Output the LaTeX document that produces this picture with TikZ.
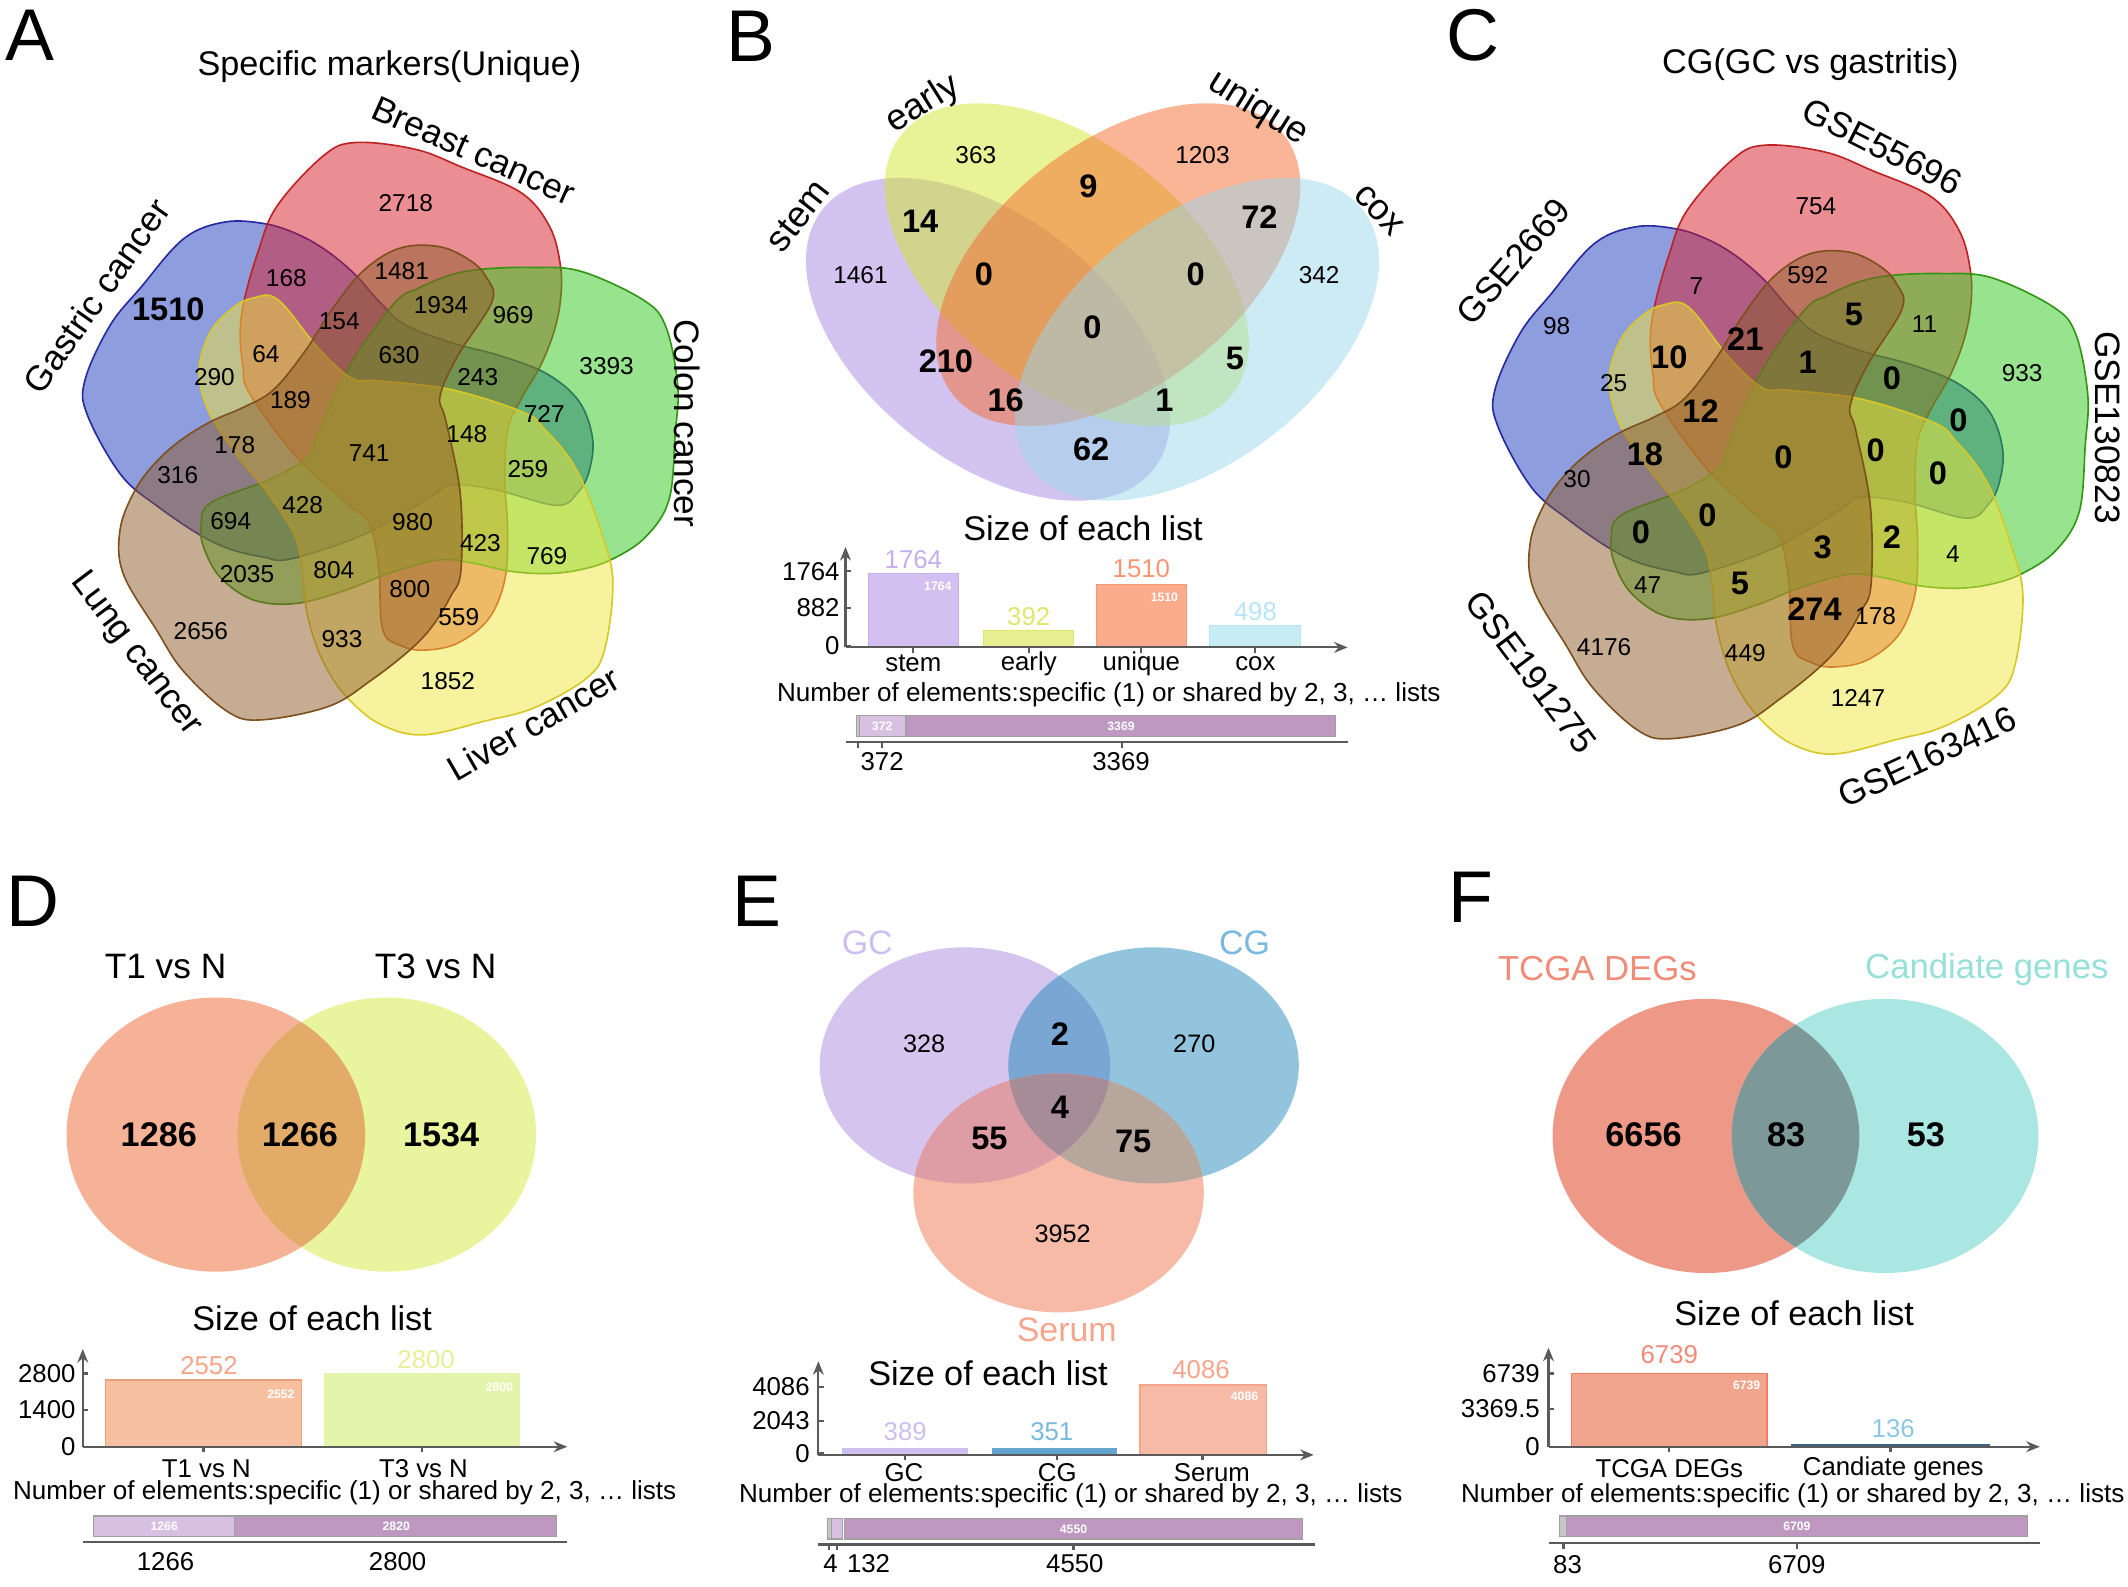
\documentclass[tikz,border=0pt]{standalone}
\usepackage{fontspec}
\setmainfont{Liberation Sans}
\usetikzlibrary{arrows.meta}

\newcommand{\fsz}[1]{\fontsize{#1}{#1}\selectfont}

% five-set blobs (A and C)
\definecolor{gasF}{RGB}{30,60,190}
\definecolor{gasD}{RGB}{40,40,160}
\definecolor{brF}{RGB}{215,30,40}
\definecolor{brD}{RGB}{190,35,35}
\definecolor{coF}{RGB}{50,200,30}
\definecolor{coD}{RGB}{50,150,20}
\definecolor{liF}{RGB}{240,230,60}
\definecolor{liD}{RGB}{215,200,40}
\definecolor{luF}{RGB}{140,90,40}
\definecolor{luD}{RGB}{125,80,30}
% four-set ellipses (B)
\definecolor{stemF}{RGB}{165,135,225}
\definecolor{earlyF}{RGB}{210,230,45}
\definecolor{uniqF}{RGB}{245,105,45}
\definecolor{coxF}{RGB}{155,215,235}
\definecolor{stemB}{RGB}{212,192,240}
\definecolor{earlyB}{RGB}{230,240,145}
\definecolor{uniqB}{RGB}{250,172,140}
\definecolor{coxB}{RGB}{200,236,246}
\definecolor{stemT}{RGB}{195,175,235}
\definecolor{earlyT}{RGB}{218,232,110}
\definecolor{uniqT}{RGB}{248,150,115}
\definecolor{coxT}{RGB}{185,228,245}
% bottom bars and axes
\definecolor{upL}{RGB}{215,192,225}
\definecolor{upP}{RGB}{190,152,192}
\definecolor{upG}{RGB}{160,160,160}
\definecolor{axG}{RGB}{90,90,90}
% D
\definecolor{t1F}{RGB}{246,178,150}
\definecolor{t3F}{RGB}{232,244,158}
\definecolor{t13F}{RGB}{226,172,104}
\definecolor{t1B}{RGB}{247,192,160}
\definecolor{t1D}{RGB}{240,160,120}
\definecolor{t3B}{RGB}{228,244,170}
\definecolor{t1T}{RGB}{246,165,135}
\definecolor{t3T}{RGB}{228,240,150}
% E
\definecolor{gcF}{RGB}{212,196,238}
\definecolor{cgF}{RGB}{146,196,222}
\definecolor{seF}{RGB}{246,186,166}
\definecolor{gccgF}{RGB}{122,166,212}
\definecolor{gcseF}{RGB}{222,157,165}
\definecolor{cgseF}{RGB}{183,166,156}
\definecolor{allF}{RGB}{165,140,150}
\definecolor{gcT}{RGB}{205,190,240}
\definecolor{cgT}{RGB}{120,185,222}
\definecolor{seT}{RGB}{245,165,140}
\definecolor{cgB}{RGB}{100,165,205}
% F
\definecolor{tcF}{RGB}{238,152,136}
\definecolor{caF}{RGB}{170,230,226}
\definecolor{tccaF}{RGB}{125,152,152}
\definecolor{tcT}{RGB}{240,140,120}
\definecolor{caT}{RGB}{150,225,215}
\definecolor{tcB}{RGB}{241,165,142}
\definecolor{tcD}{RGB}{238,125,100}
\definecolor{caB}{RGB}{60,100,130}
\definecolor{caN}{RGB}{140,200,230}

\newcommand{\fivevenn}{%
  \foreach \ang/\fc/\dc in {72/gasF/gasD, 0/brF/brD, -72/coF/coD, -144/liF/liD, 144/luF/luD}{%
    \filldraw[fill=\fc, draw=\dc, fill opacity=0.5, line width=0.6pt,
      rotate around={\ang:(283,330)}]
      plot[smooth cycle, tension=0.6] coordinates {(238,115) (262,105) (306,110) (340,123)
        (384,142) (405,167) (413,196) (413,221) (408,245) (398,270) (384,294) (374,317)
        (372,354) (374,390) (372,427) (360,456) (337,474) (313,479) (296,476) (282,464)
        (279,417) (272,385) (258,373) (218,336) (184,290) (179,270) (177,245) (180,221)
        (190,186) (204,152)};
  }%
}

\begin{document}
\begin{tikzpicture}[x=0.5pt,y=-0.5pt,
  panelletter/.style={font=\fsz{27}, inner sep=0pt},
  titletxt/.style={font=\fsz{12.6}, inner sep=0pt},
  setlab/.style={font=\fsz{13}, inner sep=0pt},
  numtxt/.style={font=\fsz{9}, inner sep=0pt},
  numbold/.style={font=\fsz{12}\bfseries, inner sep=0pt},
  ticklab/.style={font=\fsz{9.5}, inner sep=0pt},
  notetxt/.style={font=\fsz{9.6}, inner sep=0pt},
  tinylab/.style={font=\fsz{4.5}\bfseries, text=white, inner sep=0pt},
  axisline/.style={draw=axG, line width=0.8pt},
  axisarrow/.style={axisline, -{Stealth[length=5pt,width=4pt]}},
]
\useasboundingbox (0,0) rectangle (1568,1169);

% ---------------- A ----------------
\node[panelletter] (pA) at (22,26) {A};
\node[titletxt] (tA) at (287,49) {Specific markers(Unique)};
\fivevenn
\node[setlab, rotate=-24] (lbr) at (349,111) {Breast cancer};
\node[setlab, rotate=55] (lga) at (71,218) {Gastric cancer};
\node[setlab, rotate=-90] (lco) at (506,312) {Colon cancer};
\node[setlab, rotate=-53] (llu) at (100,482) {Lung cancer};
\node[setlab, rotate=30] (lli) at (393,533) {Liver cancer};
\foreach \v/\x/\y [count=\i] in {2718/299/150, 168/211/205, 1481/296/200, 1934/325/225,
    969/378/232, 154/250/237, 64/196/261, 630/294/262, 3393/447/270, 290/158/278,
    243/352/278, 189/214/295, 727/401/305, 178/173/328, 741/272/334, 148/344/320,
    316/131/350, 259/389/346, 694/170/384, 428/223/372, 980/304/385, 423/354/400,
    769/403/410, 2035/182/423, 804/246/420, 800/302/434, 559/338/455, 2656/148/465,
    933/252/471, 1852/330/502}
  \node[numtxt] (na\i) at (\x,\y) {\v};
\node[numbold] (na0) at (124,228) {1510};

% ---------------- B ----------------
\node[panelletter] (pB) at (553,27) {B};
\fill[stemF, fill opacity=0.5, rotate around={-38:(728,250)}] (728,250) ellipse [x radius=155, y radius=90];
\fill[earlyF, fill opacity=0.5, rotate around={-38:(786,195)}] (786,195) ellipse [x radius=155, y radius=90];
\fill[uniqF, fill opacity=0.5, rotate around={38:(824,195)}] (824,195) ellipse [x radius=155, y radius=90];
\fill[coxF, fill opacity=0.5, rotate around={38:(882,250)}] (882,250) ellipse [x radius=155, y radius=90];
\node[setlab, font=\fsz{13.5}, rotate=52] (lstem) at (588,159) {stem};
\node[setlab, font=\fsz{13.5}, rotate=32] (learly) at (680,77) {early};
\node[setlab, font=\fsz{13.5}, rotate=-32] (luniq) at (927,80) {unique};
\node[setlab, font=\fsz{13.5}, rotate=-46] (lcox) at (1016,155) {cox};
\foreach \v/\x/\y [count=\i] in {363/719/114, 1203/886/114, 1461/634/203, 342/972/203}
  \node[numtxt] (nb\i) at (\x,\y) {\v};
\foreach \v/\x/\y [count=\i] in {9/802/137, 14/678/163, 72/928/160, 0/725/202, 0/881/202,
    0/805/241, 210/697/266, 5/910/264, 16/741/295, 1/858/295, 62/804/331}
  \node[numbold] (bb\i) at (\x,\y) {\v};

% B bar chart
\node[titletxt] (sB) at (798,389) {Size of each list};
\draw[axisarrow] (623,477) -- (623,403);
\foreach \t/\y in {1764/421, 882/448, 0/476}{
  \draw[axisline] (623,\y) -- (627,\y);
  \node[ticklab, anchor=east] (yb\t) at (619,\y) {\t};
}
\filldraw[fill=stemB, draw=stemT] (640,422.7) rectangle (706,477);
\filldraw[fill=earlyB, draw=earlyT] (725,464.7) rectangle (791,477);
\filldraw[fill=uniqB, draw=uniqT] (808,430.5) rectangle (874,477);
\filldraw[fill=coxB, draw=coxT] (891,461) rectangle (958,477);
\draw[axisarrow] (623,477) -- (993,477);
\foreach \x in {673,758,841,925} \draw[axisline] (\x,477) -- (\x,481);
\node[ticklab, text=stemT] (hb1) at (673,412) {1764};
\node[ticklab, text=earlyT] (hb2) at (758,454) {392};
\node[ticklab, text=uniqT] (hb3) at (841,419) {1510};
\node[ticklab, text=coxT] (hb4) at (925,451) {498};
\node[tinylab] (wb1) at (691,432) {1764};
\node[tinylab] (wb2) at (858,440) {1510};
\node[ticklab] (xb1) at (673,489) {stem};
\node[ticklab] (xb2) at (758,489) {early};
\node[ticklab] (xb3) at (841,489) {unique};
\node[ticklab] (xb4) at (925,489) {cox};
\node[notetxt] (nbB) at (817,512) {Number of elements:specific (1) or shared by 2, 3, … lists};
\filldraw[fill=upG!60, draw=upG] (631,527) rectangle (633,543);
\filldraw[fill=upL, draw=upG] (633,527) rectangle (667,543);
\filldraw[fill=upP, draw=upG] (668,527) rectangle (984,543);
\node[tinylab] (ub1) at (650,535) {372};
\node[tinylab] (ub2) at (826,535) {3369};
\draw[axisline] (623,547) -- (993,547);
\foreach \x in {632,650,827} \draw[axisline] (\x,547) -- (\x,551);
\node[ticklab] (kb1) at (650,561) {372};
\node[ticklab] (kb2) at (826,561) {3369};

% ---------------- C ----------------
\node[panelletter] (pC) at (1085,26) {C};
\node[titletxt] (tC) at (1334,48) {CG(GC vs gastritis)};
\begin{scope}[shift={(1039,-1)}, yscale=1.028]
  \fivevenn
\end{scope}
\node[setlab, rotate=-27] (lg55) at (1387,108) {GSE55696};
\node[setlab, rotate=49] (lg26) at (1115,193) {GSE2669};
\node[setlab, rotate=-90] (lg13) at (1553,315) {GSE130823};
\node[setlab, rotate=-53] (lg19) at (1128,495) {GSE191275};
\node[setlab, rotate=25] (lg16) at (1420,558) {GSE163416};
\foreach \v/\x/\y [count=\i] in {754/1338/152, 7/1250/211, 592/1332/203, 98/1147/240,
    11/1418/239, 25/1189/282, 933/1490/275, 30/1162/353, 4/1439/408, 47/1214/431,
    178/1382/454, 4176/1182/477, 449/1286/481, 1247/1369/514}
  \node[numtxt] (nc\i) at (\x,\y) {\v};
\foreach \v/\x/\y [count=\i] in {5/1366/232, 21/1286/250, 10/1230/263, 1/1332/267,
    0/1394/279, 12/1253/303, 0/1443/310, 18/1212/335, 0/1314/337, 0/1382/332,
    0/1428/349, 0/1258/380, 0/1209/392, 3/1343/403, 2/1394/396, 5/1282/430, 274/1337/449}
  \node[numbold] (bc\i) at (\x,\y) {\v};

% ---------------- D ----------------
\node[panelletter] (pD) at (24,664) {D};
\node[setlab] (lt1) at (122,712) {T1 vs N};
\node[setlab] (lt3) at (321,712) {T3 vs N};
\fill[t3F] (285,836) ellipse [x radius=110, y radius=101];
\fill[t1F] (159,836) ellipse [x radius=110, y radius=101];
\begin{scope}
  \clip (159,836) ellipse [x radius=110, y radius=101];
  \fill[t13F] (285,836) ellipse [x radius=110, y radius=101];
\end{scope}
\node[numbold, font=\fsz{12.6}\bfseries] (nd1) at (117,836) {1286};
\node[numbold, font=\fsz{12.6}\bfseries] (nd2) at (221,836) {1266};
\node[numbold, font=\fsz{12.6}\bfseries] (nd3) at (325,836) {1534};

\node[titletxt] (sD) at (230,971) {Size of each list};
\draw[axisarrow] (61,1066) -- (61,994);
\filldraw[fill=t1B, draw=t1D] (78,1016.8) rectangle (222,1066);
\filldraw[fill=t3B, draw=t3B] (239,1012) rectangle (383,1066);
\draw[axisarrow] (61,1066) -- (418,1066);
\foreach \t/\y in {2800/1012, 1400/1039, 0/1066}{
  \draw[axisline] (61,\y) -- (65,\y);
  \node[ticklab, anchor=east] (yd\t) at (56,\y) {\t};
}
\foreach \x in {150,311} \draw[axisline] (\x,1066) -- (\x,1070);
\node[ticklab, text=t1T] (hd1) at (154,1006) {2552};
\node[ticklab, text=t3T] (hd2) at (314,1002) {2800};
\node[tinylab] (wd1) at (207,1027) {2552};
\node[tinylab] (wd2) at (368,1022) {2800};
\node[ticklab] (xd1) at (152,1082) {T1 vs N};
\node[ticklab] (xd2) at (312,1082) {T3 vs N};
\node[notetxt] (nbD) at (254,1100) {Number of elements:specific (1) or shared by 2, 3, … lists};
\filldraw[fill=upL, draw=upG] (69,1117) rectangle (173,1132);
\filldraw[fill=upP, draw=upG] (173,1117) rectangle (410,1132);
\node[tinylab] (ud1) at (121,1124.5) {1266};
\node[tinylab] (ud2) at (292,1124.5) {2820};
\draw[axisline] (61,1136) -- (418,1136);
\node[ticklab] (kd1) at (122,1151) {1266};
\node[ticklab] (kd2) at (293,1151) {2800};

% ---------------- E ----------------
\node[panelletter] (pE) at (558,664) {E};
\node[setlab, font=\fsz{12.5}, text=gcT] (lgc) at (639,695) {GC};
\node[setlab, font=\fsz{12.5}, text=cgT] (lcg) at (917,695) {CG};
\node[setlab, font=\fsz{12.5}, text=seT] (lse) at (786,980) {Serum};
\fill[gcF] (711,785) ellipse [x radius=107, y radius=87];
\fill[cgF] (850,785) ellipse [x radius=107, y radius=87];
\fill[seF] (780,879) ellipse [x radius=107, y radius=88];
\begin{scope}
  \clip (711,785) ellipse [x radius=107, y radius=87];
  \fill[gccgF] (850,785) ellipse [x radius=107, y radius=87];
  \fill[gcseF] (780,879) ellipse [x radius=107, y radius=88];
\end{scope}
\begin{scope}
  \clip (850,785) ellipse [x radius=107, y radius=87];
  \fill[cgseF] (780,879) ellipse [x radius=107, y radius=88];
\end{scope}
\begin{scope}
  \clip (711,785) ellipse [x radius=107, y radius=87];
  \clip (850,785) ellipse [x radius=107, y radius=87];
  \fill[allF] (780,879) ellipse [x radius=107, y radius=88];
\end{scope}
\node[numtxt, font=\fsz{9.3}] (ne1) at (681,769) {328};
\node[numtxt, font=\fsz{9.3}] (ne2) at (880,769) {270};
\node[numtxt, font=\fsz{9.3}] (ne3) at (783,909) {3952};
\node[numbold] (be1) at (781,762) {2};
\node[numbold] (be2) at (781,816) {4};
\node[numbold] (be3) at (729,839) {55};
\node[numbold] (be4) at (835,841) {75};

\node[titletxt] (sE) at (728,1012) {Size of each list};
\draw[axisarrow] (603,1072) -- (603,1003);
\filldraw[fill=gcT, draw=gcT] (621,1067.1) rectangle (713,1072);
\filldraw[fill=cgB, draw=cgB] (731,1067.6) rectangle (823,1072);
\filldraw[fill=seF, draw=seT] (840,1020.5) rectangle (933,1072);
\draw[axisarrow] (603,1072) -- (968,1072);
\foreach \t/\y in {4086/1022, 2043/1047, 0/1071}{
  \draw[axisline] (603,\y) -- (607,\y);
  \node[ticklab, anchor=east] (ye\t) at (597,\y) {\t};
}
\foreach \x in {667,779,886} \draw[axisline] (\x,1072) -- (\x,1076);
\node[ticklab, text=gcT] (he1) at (667,1055) {389};
\node[ticklab, text=cgT] (he2) at (775,1055) {351};
\node[ticklab, text=seT] (he3) at (885,1009) {4086};
\node[tinylab] (we1) at (917,1029) {4086};
\node[ticklab] (xe1) at (666,1085) {GC};
\node[ticklab] (xe2) at (779,1085) {CG};
\node[ticklab] (xe3) at (893,1085) {Serum};
\node[notetxt] (nbE) at (789,1102) {Number of elements:specific (1) or shared by 2, 3, … lists};
\filldraw[fill=upG!60, draw=upG] (610,1119) rectangle (613,1134);
\filldraw[fill=upL, draw=upG] (613,1119) rectangle (621,1134);
\filldraw[fill=upP, draw=upG] (622,1119) rectangle (960,1134);
\node[tinylab] (ue1) at (791,1126.5) {4550};
\draw[axisline] (603,1138) -- (969,1138);
\foreach \x in {611,617,791} \draw[axisline] (\x,1138) -- (\x,1142);
\node[ticklab] (ke1) at (612,1152) {4};
\node[ticklab] (ke2) at (640,1152) {132};
\node[ticklab] (ke3) at (792,1152) {4550};

% ---------------- F ----------------
\node[panelletter] (pF) at (1084,661) {F};
\node[setlab, font=\fsz{12.8}, text=tcT] (ltc) at (1177,714) {TCGA DEGs};
\node[setlab, font=\fsz{12.8}, text=caT] (lca) at (1464,714) {Candiate genes};
\fill[tcF] (1257,837) ellipse [x radius=113, y radius=101];
\fill[caF] (1389,837) ellipse [x radius=113, y radius=101];
\begin{scope}
  \clip (1257,837) ellipse [x radius=113, y radius=101];
  \fill[tccaF] (1389,837) ellipse [x radius=113, y radius=101];
\end{scope}
\node[numbold, font=\fsz{12.6}\bfseries] (nf1) at (1211,836) {6656};
\node[numbold, font=\fsz{12.6}\bfseries] (nf2) at (1316,836) {83};
\node[numbold, font=\fsz{12.6}\bfseries] (nf3) at (1419,836) {53};

\node[titletxt] (sF) at (1322,968) {Size of each list};
\draw[axisarrow] (1141,1066) -- (1141,993);
\filldraw[fill=tcB, draw=tcD] (1158,1012) rectangle (1302,1066);
\draw[caB, line width=1pt] (1320,1065.3) -- (1466,1065.3);
\draw[axisarrow] (1141,1066) -- (1503,1066);
\foreach \t/\y [count=\i] in {6739/1012, 3369.5/1038, 0/1066}{
  \draw[axisline] (1141,\y) -- (1145,\y);
  \node[ticklab, anchor=east] (yf\i) at (1135,\y) {\t};
}
\foreach \x in {1230,1393} \draw[axisline] (\x,1066) -- (\x,1070);
\node[ticklab, text=tcT] (hf1) at (1230,998) {6739};
\node[ticklab, text=caN] (hf2) at (1395,1053) {136};
\node[tinylab] (wf1) at (1287,1021) {6739};
\node[ticklab] (xf1) at (1230,1082) {TCGA DEGs};
\node[ticklab] (xf2) at (1395,1082) {Candiate genes};
\node[notetxt] (nbF) at (1321,1102) {Number of elements:specific (1) or shared by 2, 3, … lists};
\filldraw[fill=upG!60, draw=upG] (1149,1117) rectangle (1154,1132);
\filldraw[fill=upP, draw=upG] (1154,1117) rectangle (1494,1132);
\node[tinylab] (uf1) at (1324,1124.5) {6709};
\draw[axisline] (1141,1137) -- (1503,1137);
\foreach \x in {1152,1324} \draw[axisline] (\x,1137) -- (\x,1141);
\node[ticklab] (kf1) at (1155,1153) {83};
\node[ticklab] (kf2) at (1324,1153) {6709};
\end{tikzpicture}
\end{document}
